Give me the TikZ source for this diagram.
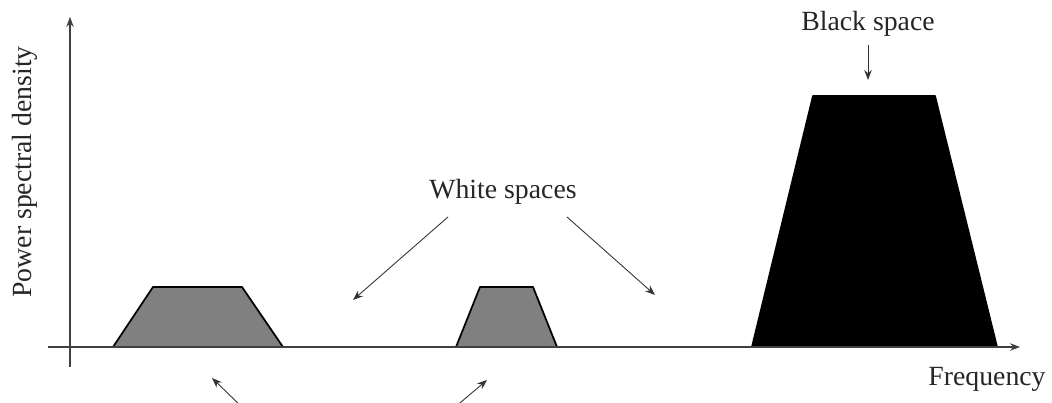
\documentclass[tikz,border=0pt]{standalone}
\usepackage{fontspec}
\setmainfont{Liberation Serif}
\usetikzlibrary{arrows.meta}
\tikzset{
  axis/.style={draw=black!75, line width=0.6pt},
  band/.style={draw=black, line width=1pt, line join=round},
  pointer/.style={draw=black!80, line width=0.5pt, ->},
  lbl/.style={font=\fontsize{15.8}{18}\selectfont, inner sep=0pt, text=black!85},
}
\begin{document}
\begin{tikzpicture}[>={Stealth[length=2mm,width=1.5mm]}]
\clip (0,0) rectangle (21.04,8.06);
% Spectrum bands
\draw[band, fill=gray] (2.26,1.12) -- (3.06,2.32) -- (4.84,2.32) -- (5.66,1.12) -- cycle;
\draw[band, fill=gray] (9.12,1.12) -- (9.6,2.32) -- (10.66,2.32) -- (11.14,1.12) -- cycle;
\draw[band, fill=black] (15.04,1.12) -- (16.26,6.14) -- (18.7,6.14) -- (19.94,1.12) -- cycle;

% Axes
\coordinate (ybot) at (1.4,0.72);
\coordinate (ytop) at (1.4,7.72);
\coordinate (xleft) at (0.96,1.12);
\coordinate (xright) at (20.4,1.12);
\draw[axis, ->] (ybot) -- (ytop);
\draw[axis, ->] (xleft) -- (xright);
\node[lbl, rotate=90] (psd) at (0.5,4.62) {Power spectral density};
\node[lbl] (freq) at (19.74,0.48) {Frequency};

% Black space
\node[lbl] (black) at (17.36,7.58) {Black space};
\coordinate (btip) at (17.36,6.46);
\draw[pointer] ([yshift=-0.16cm]black.south) -- (btip);

% White spaces
\node[lbl] (white) at (10.06,4.22) {White spaces};
\coordinate (gap1) at (7.06,2.06);
\coordinate (gap2) at (13.1,2.16);
\draw[pointer] ([xshift=0.38cm, yshift=-0.24cm]white.south west) -- (gap1);
\draw[pointer] ([xshift=-0.2cm, yshift=-0.24cm]white.south east) -- (gap2);

% Arrows from below (label cut off)
\coordinate (g1tail) at (4.86,-0.1);
\coordinate (g1tip) at (4.24,0.5);
\coordinate (g2tail) at (9.08,-0.1);
\coordinate (g2tip) at (9.74,0.46);
\draw[pointer] (g1tail) -- (g1tip);
\draw[pointer] (g2tail) -- (g2tip);
\end{tikzpicture}
\end{document}
